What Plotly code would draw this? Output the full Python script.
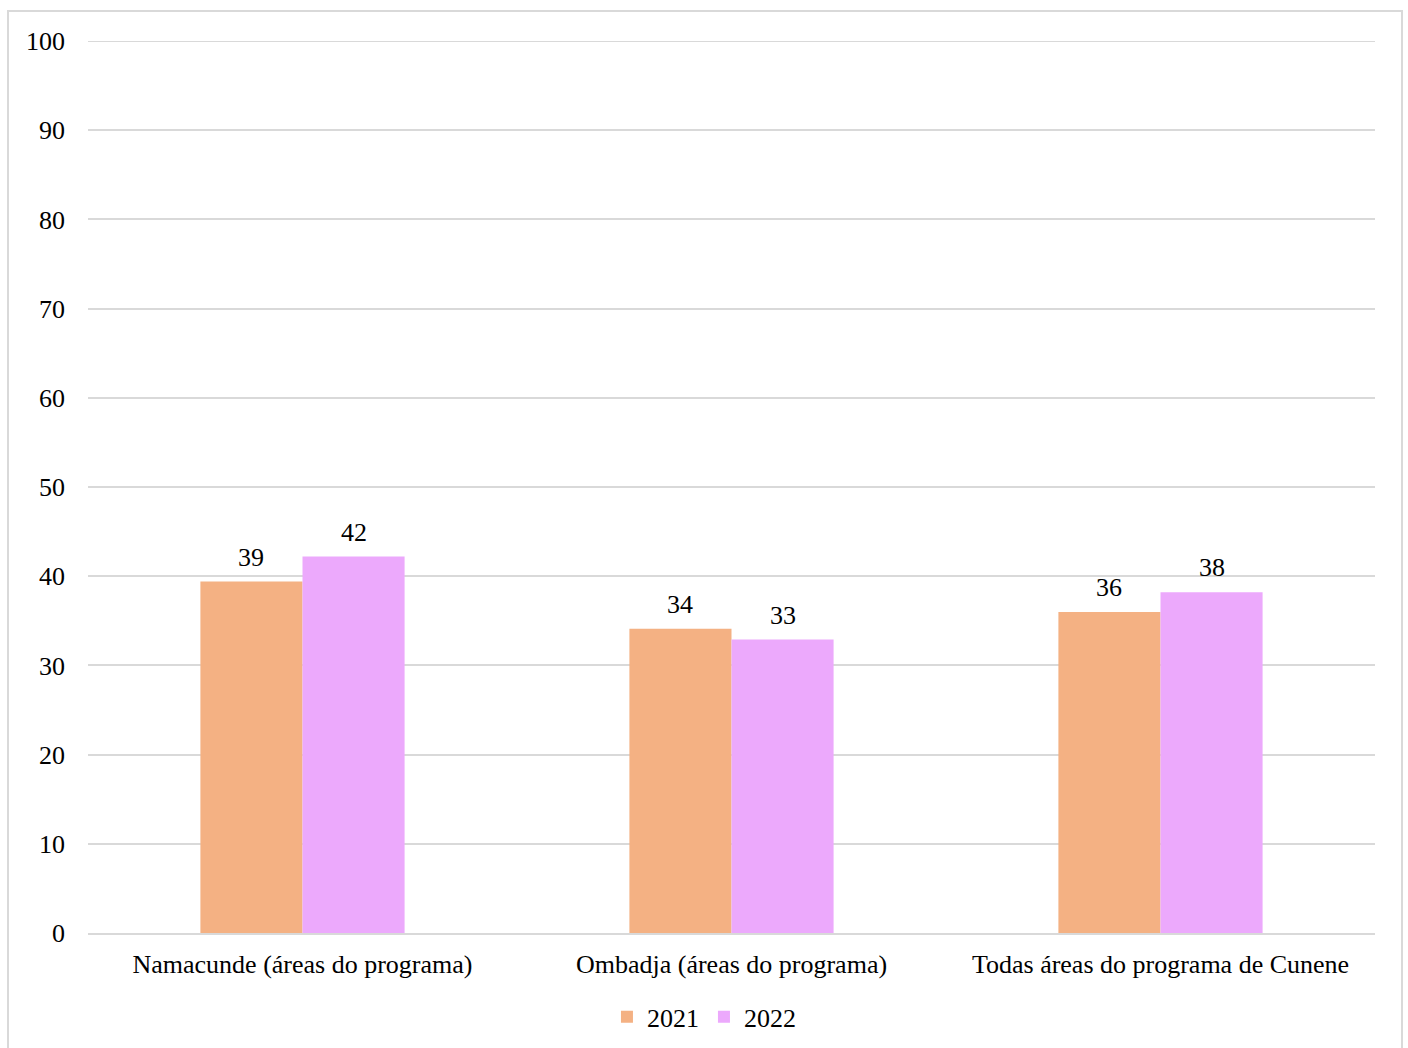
import plotly.graph_objects as go

# Share of households (%) by programme area, 2021 vs 2022
categories = [
    "Namacunde (áreas do programa)",
    "Ombadja (áreas do programa)",
    "Todas áreas do programa de Cunene",
]
values_2021 = [39.4, 34.1, 36.0]
values_2022 = [42.2, 32.9, 38.2]
series_names = ["2021", "2022"]
y_ticks = [0, 10, 20, 30, 40, 50, 60, 70, 80, 90, 100]

colors = ["#F4B183", "#ECA9FC"]
font_family = "Liberation Serif, Times New Roman, serif"
fsize = 26

fig = go.Figure()
for name, vals, col in zip(series_names, [values_2021, values_2022], colors):
    fig.add_trace(go.Bar(
        name=name,
        x=categories,
        y=vals,
        marker=dict(color=col, line=dict(width=0)),
        textposition="none",
    ))

# Value labels above each bar
annotations = []
for idx, vals in enumerate([values_2021, values_2022]):
    offset = -0.119 if idx == 0 else 0.119
    for ci, v in enumerate(vals):
        annotations.append(dict(
            x=ci + offset, y=v, xref="x", yref="y",
            text=f"{v:.0f}", showarrow=False,
            yanchor="bottom", yshift=8,
            font=dict(family=font_family, size=fsize, color="#000000"),
        ))

fig.update_layout(
    width=1408, height=1048,
    margin=dict(l=88, r=33, t=41, b=115, autoexpand=False),
    paper_bgcolor="white", plot_bgcolor="white",
    barmode="group", bargap=0.524, bargroupgap=0,
    font=dict(family=font_family, size=fsize, color="#000000"),
    showlegend=True,
    legend=dict(
        orientation="h", x=0.4786, xanchor="center",
        y=-0.094, yanchor="middle",
        font=dict(family=font_family, size=fsize),
        itemsizing="constant", traceorder="normal",
        itemwidth=30, tracegroupgap=0,
    ),
    annotations=annotations,
    shapes=[
        dict(
            type="rect", xref="paper", yref="paper",
            x0=(8 - 88) / 1287, x1=(1402 - 88) / 1287,
            y0=(933 - 1060) / 892, y1=(933 - 11) / 892,
            line=dict(color="#D9D9D9", width=2), fillcolor="rgba(0,0,0,0)",
            layer="below",
        ),
        # top gridline at 100
        dict(
            type="line", xref="paper", yref="y",
            x0=0, x1=1, y0=y_ticks[-1], y1=y_ticks[-1],
            line=dict(color="#D9D9D9", width=2), layer="below",
        ),
    ],
)

fig.update_xaxes(
    showgrid=False, showline=True, linecolor="#D9D9D9", linewidth=2,
    ticks="", ticklabelstandoff=7, automargin=False,
    tickfont=dict(family=font_family, size=fsize),
)
fig.update_yaxes(
    range=[0, 100], tickvals=y_ticks,
    showgrid=True, gridcolor="#D9D9D9", gridwidth=1.5,
    zeroline=False, showline=False, ticks="",
    ticklabelstandoff=22, automargin=False,
    tickfont=dict(family=font_family, size=fsize),
)

fig.write_html("out.html")
